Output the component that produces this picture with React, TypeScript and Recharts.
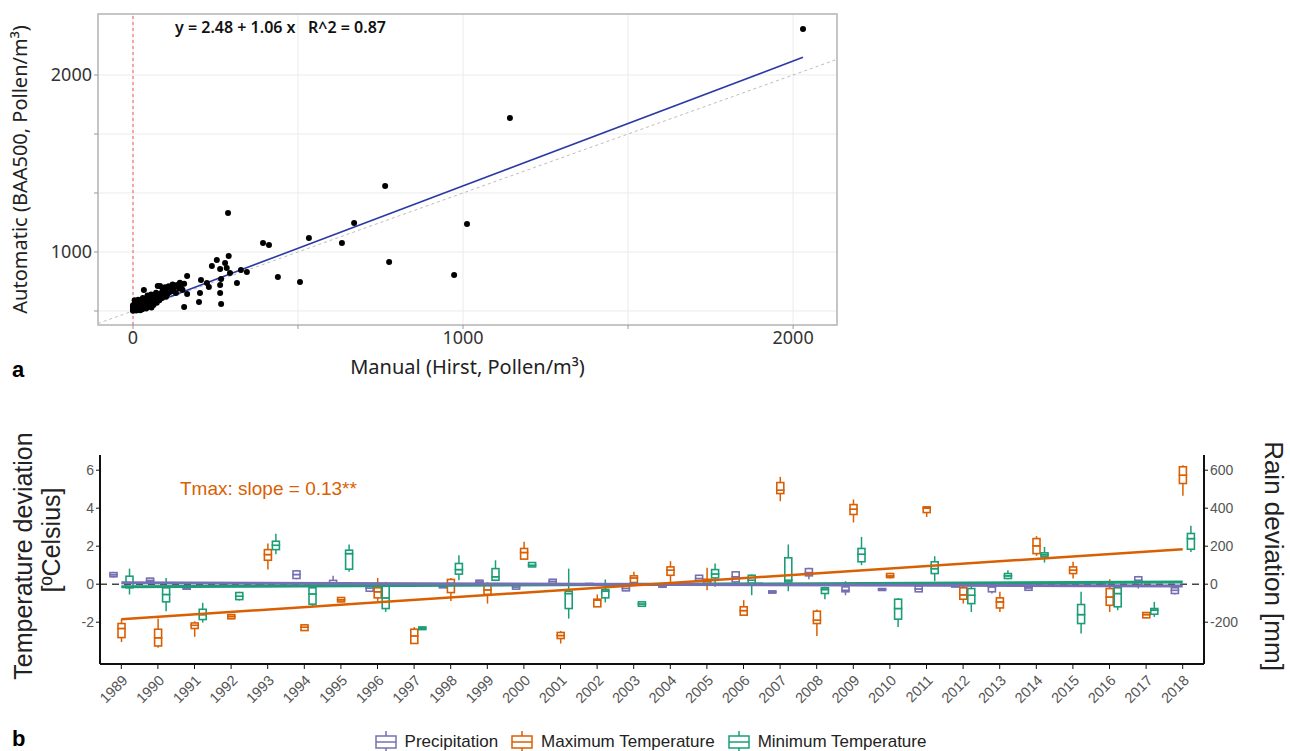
import React from "react";
import {
  ScatterChart,
  Scatter,
  ComposedChart,
  Bar,
  Line,
  XAxis,
  YAxis,
  CartesianGrid,
  ReferenceLine,
  ReferenceArea,
  Label,
  Legend,
} from "recharts";

// ---------- panel a: manual vs automatic pollen counts ----------
// [manual (Hirst), automatic (BAA500)]
const pollenPoints = [
  [0, 2], [0, 10], [0, 18], [0, 25], [0, 35], [0, 48], [2, 5], [3, 15], [4, 30], [5, 60],
  [5, 90], [6, 8], [7, 22], [8, 40], [9, 12], [10, 3], [10, 70], [11, 28], [12, 50], [13, 15],
  [14, 8], [15, 35], [16, 95], [18, 20], [19, 60], [20, 10], [21, 42], [22, 5], [24, 75], [25, 25],
  [26, 55], [28, 15], [30, 40], [30, 110], [32, 80], [33, 178], [35, 25], [36, 60], [38, 95], [40, 20],
  [42, 50], [44, 130], [45, 75], [47, 35], [50, 100], [52, 60], [55, 140], [56, 30], [58, 85], [60, 120],
  [62, 50], [64, 136], [66, 95], [70, 155], [72, 70], [73, 110], [75, 212], [78, 125], [80, 90], [82, 212],
  [85, 150], [88, 110], [90, 180], [92, 135], [95, 165], [97, 200], [100, 120], [102, 175], [105, 145], [108, 210],
  [110, 190], [112, 160], [115, 200], [118, 185], [120, 225], [122, 170], [125, 200], [128, 215], [130, 153], [135, 220],
  [140, 190], [142, 240], [145, 203], [150, 180], [155, 230], [155, 34], [164, 297], [164, 144], [200, 76], [203, 153],
  [206, 263], [224, 237], [230, 203], [239, 381], [254, 432], [264, 356], [264, 220], [264, 153], [267, 59], [267, 271],
  [279, 407], [284, 364], [288, 830], [290, 466], [294, 322], [315, 237], [327, 347], [345, 331], [394, 576], [412, 559],
  [439, 288], [506, 246], [533, 619], [633, 576], [670, 746], [776, 415], [764, 1059], [973, 305], [1012, 737], [1142, 1636],
  [2030, 2390],
];
const fitManual = [0, 2030];
const fitAutomatic = [2, 2150];
const xTicksA = [0, 500, 1000, 1500, 2000];
const xTickLabelsA = ["0", "", "1000", "", "2000"];
const yTicksA = [0, 500, 1000, 1500, 2000];
const yTickLabelsA = ["", "1000", "", "", "2000"];

// ---------- panel b: yearly deviations ----------
const years = [
  1989, 1990, 1991, 1992, 1993, 1994, 1995, 1996, 1997, 1998, 1999, 2000, 2001, 2002, 2003,
  2004, 2005, 2006, 2007, 2008, 2009, 2010, 2011, 2012, 2013, 2014, 2015, 2016, 2017, 2018,
];
// [low whisker, q1, median, q3, high whisker], mm
const precipBox = [
  [35, 39, 50, 61, 65], [10, 12, 20, 32, 34], [-28, -26, -23, -20, -18], [-6, -4, 0, 4, 6], [-5, -3, 0, 3, 5],
  [26, 30, 51, 70, 75], [-8, -5, 5, 20, 44], [-38, -37, -20, -5, -3], [-6, -4, -1, 2, 4], [-20, -19, -12, -5, -4],
  [2, 4, 12, 21, 23], [-28, -26, -15, -5, -3], [2, 4, 15, 26, 28], [-6, -4, 0, 4, 6], [-37, -35, -22, -9, -7],
  [-17, -16, -10, -5, -4], [14, 16, 30, 47, 49], [10, 12, 39, 65, 67], [-48, -47, -41, -35, -34], [26, 44, 61, 82, 86],
  [-58, -40, -32, -14, 16], [-34, -33, -28, -23, -22], [-42, -40, -25, -10, -8], [-16, -15, -10, -5, -4], [-49, -40, -14, -5, -4],
  [-33, -32, -19, -9, -8], [-12, -10, -7, -5, -4], [-10, -9, -1, 7, 9], [-23, -2, 21, 39, 44], [-54, -49, -32, -19, -14],
];
// °C
const tmaxBox = [
  [-3.04, -2.81, -2.33, -2.07, -1.84], [-3.35, -3.25, -2.82, -2.37, -1.81], [-2.77, -2.33, -2.16, -2.04, -1.95],
  [-1.84, -1.82, -1.7, -1.6, -1.58], [0.77, 1.26, 1.56, 1.82, 2.14], [-2.46, -2.44, -2.26, -2.14, -2.1],
  [-0.95, -0.93, -0.82, -0.7, -0.68], [-0.88, -0.72, -0.4, -0.19, 0.33], [-3.12, -3.12, -2.72, -2.37, -2.26],
  [-0.89, -0.44, 0.04, 0.25, 0.33], [-1.02, -0.54, -0.3, -0.05, 0.1], [1.32, 1.32, 1.67, 1.88, 2.23],
  [-3.12, -2.86, -2.7, -2.54, -2.46], [-1.19, -1.19, -0.84, -0.79, -0.54], [0.04, 0.09, 0.33, 0.44, 0.65],
  [0.12, 0.47, 0.74, 0.91, 1.21], [-0.32, 0.04, 0.15, 0.26, 0.86], [-1.63, -1.63, -1.39, -1.19, -0.84],
  [4.37, 4.77, 4.95, 5.35, 5.65], [-2.72, -2.07, -1.89, -1.42, -1.33], [3.25, 3.67, 3.95, 4.19, 4.46],
  [0.3, 0.35, 0.44, 0.56, 0.6], [3.54, 3.77, 4.0, 4.07, 4.1], [-1.02, -0.79, -0.56, -0.19, -0.05],
  [-1.46, -1.25, -0.93, -0.72, -0.4], [1.49, 1.61, 2.02, 2.4, 2.53], [0.3, 0.56, 0.74, 0.91, 1.18],
  [-1.46, -1.11, -0.67, -0.23, 0.26], [-1.79, -1.77, -1.6, -1.49, -1.47], [4.65, 5.3, 5.74, 6.18, 6.26],
];
const tminBox = [
  [-0.54, -0.19, 0.07, 0.42, 0.82], [-1.42, -0.93, -0.54, -0.19, 0.33], [-2.02, -1.86, -1.6, -1.32, -0.98],
  [-0.86, -0.81, -0.63, -0.44, -0.4], [1.58, 1.82, 2.05, 2.26, 2.65], [-1.2, -1.05, -0.51, -0.19, -0.09],
  [0.65, 0.79, 1.61, 1.79, 2.09], [-1.46, -1.28, -0.72, -0.09, 0.12], [-2.4, -2.39, -2.32, -2.25, -2.24],
  [0.21, 0.53, 0.77, 1.09, 1.53], [0.16, 0.21, 0.39, 0.82, 1.26], [0.89, 0.91, 1.0, 1.14, 1.16],
  [-1.81, -1.28, -0.49, -0.37, 0.82], [-0.96, -0.72, -0.37, -0.28, 0.25], [-1.2, -1.16, -1.04, -0.93, -0.9],
  [-0.06, -0.04, 0, 0.04, 0.06], [-0.14, 0.33, 0.54, 0.77, 1.09], [-0.58, 0.04, 0.21, 0.47, 0.51],
  [-0.37, 0.12, 0.21, 1.39, 2.09], [-0.79, -0.49, -0.28, -0.19, -0.14], [1.0, 1.18, 1.58, 1.88, 2.49],
  [-2.25, -1.84, -1.28, -0.79, -0.72], [0.16, 0.56, 0.82, 1.18, 1.47], [-1.46, -1.02, -0.58, -0.23, -0.05],
  [0.26, 0.3, 0.44, 0.56, 0.74], [1.14, 1.44, 1.55, 1.65, 1.96], [-2.6, -2.07, -1.6, -1.07, -0.4],
  [-1.37, -1.19, -0.49, -0.19, -0.14], [-1.72, -1.58, -1.37, -1.28, -0.93], [1.7, 1.84, 2.4, 2.67, 3.07],
];
const trendYears = [1989, 2018];
const tmaxTrend = [-1.84, 1.84];
const tminTrend = [-0.14, 0.12];
const precipTrend = [7, -9]; // mm
const leftTicks = [-2, 0, 2, 4, 6];
const rightTicks = [-200, 0, 200, 400, 600];

const PURPLE = "#7570b3";
const ORANGE = "#d95f02";
const GREEN = "#1b9e77";

const seriesB = [
  { key: "p", name: "Precipitation", color: PURPLE, box: precipBox, k: 0.01 },
  { key: "x", name: "Maximum Temperature", color: ORANGE, box: tmaxBox, k: 1 },
  { key: "n", name: "Minimum Temperature", color: GREEN, box: tminBox, k: 1 },
];

// stacked segments: base, lower whisker, lower box, upper box, upper whisker
const rowsB = years.map((year, i) => {
  const row: any = { year };
  seriesB.forEach((s) => {
    const b = s.box[i].map((v) => v * s.k);
    row[s.key + "0"] = b[0];
    for (let j = 1; j < 5; j++) row[s.key + j] = b[j] - b[j - 1];
  });
  const t = trendYears.indexOf(year);
  if (t >= 0) {
    row.tmaxTrend = tmaxTrend[t];
    row.tminTrend = tminTrend[t];
    row.precipTrend = precipTrend[t];
  }
  return row;
});

const pointsA = pollenPoints.map(([x, y]) => ({ x, y }));
const fitA = fitManual.map((x, i) => ({ x, y: fitAutomatic[i] }));

const boxShape = (color: string, part: number) => (p: any) => {
  const { x, y, width, height } = p;
  if (part === 0 || x == null || y == null) return <g />;
  const top = Math.min(y, y + height);
  const h = Math.abs(height);
  if (part === 1 || part === 4) {
    return (
      <line x1={x + width / 2} x2={x + width / 2} y1={top} y2={top + h} stroke={color} strokeWidth={1.5} />
    );
  }
  return <rect x={x} y={top} width={width} height={h} fill="#fff" stroke={color} strokeWidth={1.6} />;
};

const BoxIcon = ({ color }: { color: string }) => (
  <svg width={24} height={22} style={{ display: "block" }}>
    <line x1={12} x2={12} y1={0} y2={5} stroke={color} strokeWidth={1.5} />
    <line x1={12} x2={12} y1={17} y2={22} stroke={color} strokeWidth={1.5} />
    <rect x={2} y={5} width={20} height={12} fill="#fff" stroke={color} strokeWidth={1.5} />
    <line x1={2} x2={22} y1={11} y2={11} stroke={color} strokeWidth={1.5} />
  </svg>
);

const renderLegend = () => (
  <div
    style={{
      display: "flex",
      justifyContent: "center",
      alignItems: "center",
      fontFamily: "'Liberation Sans', Arial, sans-serif",
      fontSize: 17,
      color: "#222",
      paddingLeft: 22,
    }}
  >
    {seriesB.map((s) => (
      <div key={s.key} style={{ display: "flex", alignItems: "center", marginRight: 12 }}>
        <BoxIcon color={s.color} />
        <span style={{ marginLeft: 7 }}>{s.name}</span>
      </div>
    ))}
  </div>
);

const fontA = "'Noto Sans', 'Open Sans', sans-serif";
const fontB = "'Liberation Sans', Arial, sans-serif";

export default function App() {
  return (
    <div style={{ position: "absolute", left: 0, top: 0, width: 1290, height: 751, background: "#fff" }}>
      {/* panel a */}
      <div style={{ position: "absolute", left: 0, top: 0 }}>
        <ScatterChart width={860} height={390} margin={{ top: 14, right: 23, bottom: 10, left: 0 }}>
          <CartesianGrid stroke="#ebebeb" strokeWidth={1} />
          <XAxis
            type="number"
            dataKey="x"
            domain={[-106, 2133]}
            ticks={xTicksA}
            tickFormatter={(v: number) => xTickLabelsA[xTicksA.indexOf(v)]}
            axisLine={false}
            tickLine={{ stroke: "#999" }}
            tickSize={4}
            height={55}
            tick={{ fontSize: 18, fill: "#333", fontFamily: fontA }}
          >
            <Label
              value="Manual (Hirst, Pollen/m³)"
              position="insideBottom"
              offset={6}
              style={{ fontSize: 20, fill: "#222", fontFamily: fontA }}
            />
          </XAxis>
          <YAxis
            type="number"
            dataKey="y"
            domain={[-119, 2517]}
            ticks={yTicksA}
            tickFormatter={(v: number) => yTickLabelsA[yTicksA.indexOf(v)]}
            axisLine={false}
            tickLine={{ stroke: "#999" }}
            tickSize={4}
            width={98}
            tick={{ fontSize: 18, fill: "#333", fontFamily: fontA }}
          >
            <Label
              value="Automatic (BAA500, Pollen/m³)"
              angle={-90}
              position="insideLeft"
              offset={20}
              style={{ fontSize: 20, fill: "#222", fontFamily: fontA, textAnchor: "middle" }}
            />
          </YAxis>
          <ReferenceArea x1={-106} x2={2133} y1={-119} y2={2517} fill="none" stroke="#b5b5b5" strokeWidth={1.5} />
          <ReferenceLine
            segment={[{ x: -106, y: -106 }, { x: 2133, y: 2133 }]}
            stroke="#bdbdbd"
            strokeDasharray="3 3"
          />
          <ReferenceLine x={0} stroke="#f25c5c" strokeDasharray="3 3" />
          <Scatter
            data={fitA}
            line={{ stroke: "#2b3aa3", strokeWidth: 1.6 }}
            shape={() => <g />}
            isAnimationActive={false}
          />
          <Scatter
            data={pointsA}
            shape={(p: any) => <circle cx={p.cx} cy={p.cy} r={3} fill="#000" />}
            isAnimationActive={false}
          />
        </ScatterChart>
        <div
          style={{
            position: "absolute",
            left: 175,
            top: 16,
            fontFamily: fontA,
            fontSize: 16,
            fontWeight: 600,
            whiteSpace: "pre",
            color: "#111",
          }}
        >
          {"y = 2.48 + 1.06 x   R^2 = 0.87"}
        </div>
      </div>
      <div
        style={{ position: "absolute", left: 12, top: 357, fontFamily: fontB, fontSize: 22, fontWeight: 700 }}
      >
        a
      </div>

      {/* panel b */}
      <div style={{ position: "absolute", left: 0, top: 430 }}>
        <ComposedChart
          width={1290}
          height={321}
          data={rowsB}
          margin={{ top: 25, right: 0, bottom: 37, left: 0 }}
          barSize={7}
          barGap={1}
        >
          <XAxis
            dataKey="year"
            type="category"
            interval={0}
            padding={{ left: 3, right: 3 }}
            angle={-45}
            textAnchor="end"
            height={50}
            tickSize={5}
            tickMargin={5}
            axisLine={{ stroke: "#111", strokeWidth: 2 }}
            tickLine={{ stroke: "#111" }}
            tick={{ fontSize: 14.5, fill: "#555", fontFamily: fontB }}
          />
          <XAxis
            xAxisId="top"
            dataKey="year"
            orientation="top"
            height={0}
            tick={false}
            tickLine={false}
            axisLine={{ stroke: "#111", strokeWidth: 2 }}
          />
          <YAxis
            yAxisId="left"
            domain={[-4.2, 6.8]}
            ticks={leftTicks}
            width={100}
            tickSize={4}
            axisLine={{ stroke: "#111", strokeWidth: 2 }}
            tickLine={{ stroke: "#111" }}
            tick={{ fontSize: 14, fill: "#555", fontFamily: fontB }}
            label={{
              content: () => (
                <g style={{ fontFamily: fontB, fontSize: 25, fill: "#222" }}>
                  <text transform="translate(23,126) rotate(-90)" textAnchor="middle" dominantBaseline="central">
                    Temperature deviation
                  </text>
                  <text transform="translate(51,110) rotate(-90)" textAnchor="middle" dominantBaseline="central">
                    [ºCelsius]
                  </text>
                </g>
              ),
            }}
          />
          <YAxis
            yAxisId="right"
            orientation="right"
            domain={[-420, 680]}
            ticks={rightTicks}
            width={86}
            tickSize={4}
            axisLine={{ stroke: "#111", strokeWidth: 2 }}
            tickLine={{ stroke: "#111" }}
            tick={{ fontSize: 14, fill: "#555", fontFamily: fontB }}
            label={{
              content: () => (
                <text
                  transform="translate(1274,126) rotate(90)"
                  textAnchor="middle"
                  dominantBaseline="central"
                  style={{ fontFamily: fontB, fontSize: 26, fill: "#222" }}
                >
                  Rain deviation [mm]
                </text>
              ),
            }}
          />
          <ReferenceLine yAxisId="left" y={0} stroke="#444" strokeDasharray="7 5" strokeWidth={1.5} />
          {seriesB.map((s) =>
            [0, 1, 2, 3, 4].map((j) => (
              <Bar
                key={s.key + j}
                dataKey={s.key + j}
                stackId={s.key}
                yAxisId="left"
                fill={s.color}
                isAnimationActive={false}
                shape={boxShape(s.color, j)}
              />
            ))
          )}
          <Line
            yAxisId="left"
            dataKey="tminTrend"
            stroke={GREEN}
            strokeWidth={3}
            dot={false}
            connectNulls
            isAnimationActive={false}
          />
          <Line
            yAxisId="right"
            dataKey="precipTrend"
            stroke={PURPLE}
            strokeWidth={3}
            dot={false}
            connectNulls
            isAnimationActive={false}
          />
          <Line
            yAxisId="left"
            dataKey="tmaxTrend"
            stroke={ORANGE}
            strokeWidth={2.5}
            dot={false}
            connectNulls
            isAnimationActive={false}
          />
          <Legend
            layout="horizontal"
            verticalAlign="middle"
            align="center"
            wrapperStyle={{ left: 0, top: 301, width: 1290 }}
            content={renderLegend}
          />
        </ComposedChart>
        <div
          style={{
            position: "absolute",
            left: 180,
            top: 48,
            fontFamily: fontB,
            fontSize: 19,
            color: ORANGE,
            whiteSpace: "pre",
          }}
        >
          Tmax: slope = 0.13**
        </div>
      </div>
      <div
        style={{ position: "absolute", left: 12, top: 726, fontFamily: fontB, fontSize: 22, fontWeight: 700 }}
      >
        b
      </div>
    </div>
  );
}
